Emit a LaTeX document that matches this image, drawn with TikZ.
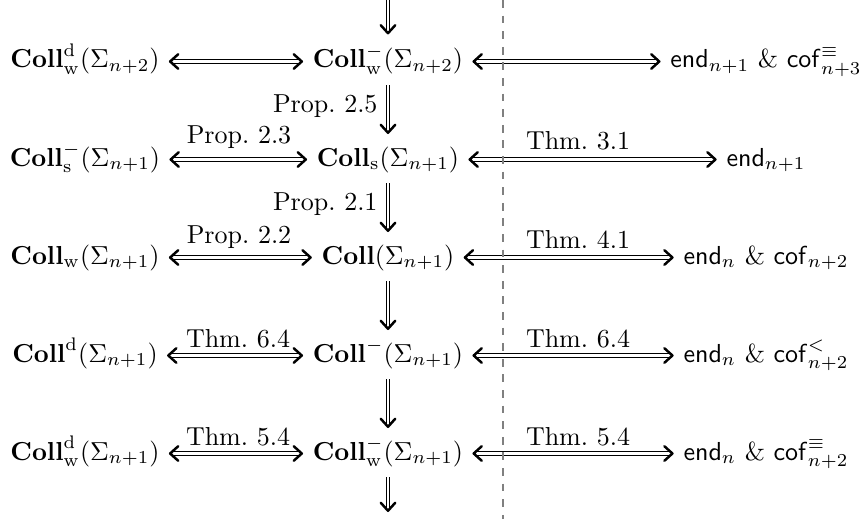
\documentclass[tikz,border=0pt]{standalone}
\usetikzlibrary{arrows.meta}
\begin{document}
\begin{tikzpicture}[x=0.3846pt,y=-0.3846pt,
  Chev/.tip={Straight Barb[length=3.1pt, width=5.6pt, line width=0.95pt, round]},
  obj/.style={inner sep=0pt, text height=7.5pt, text depth=2.5pt, anchor=base},
  dbl/.style={double, double distance=1.1pt, line width=0.4pt},
  harr/.style={dbl, {Chev}-{Chev}, shorten <=3.4pt, shorten >=3.6pt},
  varr/.style={dbl, -{Chev}, shorten <=4pt, shorten >=4.6pt},
  lbl/.style={inner sep=0pt, anchor=base},
  sep/.style={gray, dashed, line width=0.4pt}]
\useasboundingbox (0,0) rectangle (867,519);
% row 1
\node[obj] (a1) at (85,68) {$\mathbf{Coll}^{\mathrm{d}}_{\mathrm{w}}(\Sigma_{n+2})$};
\node[obj] (b1) at (388,68) {$\mathbf{Coll}^{-}_{\mathrm{w}}(\Sigma_{n+2})$};
\node[obj] (c1) at (766,68) {$\mathsf{end}_{n+1}$ \& $\mathsf{cof}^{\equiv}_{n+3}$};
% row 2
\node[obj] (a2) at (85,166) {$\mathbf{Coll}^{-}_{\mathrm{s}}(\Sigma_{n+1})$};
\node[obj] (b2) at (388,166) {$\mathbf{Coll}_{\mathrm{s}}(\Sigma_{n+1})$};
\node[obj] (c2) at (766,166) {$\mathsf{end}_{n+1}$};
% row 3
\node[obj] (a3) at (85,264) {$\mathbf{Coll}_{\mathrm{w}}(\Sigma_{n+1})$};
\node[obj] (b3) at (388,264) {$\mathbf{Coll}(\Sigma_{n+1})$};
\node[obj] (c3) at (766,264) {$\mathsf{end}_{n}$ \& $\mathsf{cof}_{n+2}$};
% row 4
\node[obj] (a4) at (85,362) {$\mathbf{Coll}^{\mathrm{d}}(\Sigma_{n+1})$};
\node[obj] (b4) at (388,362) {$\mathbf{Coll}^{-}(\Sigma_{n+1})$};
\node[obj] (c4) at (766,362) {$\mathsf{end}_{n}$ \& $\mathsf{cof}^{<}_{n+2}$};
% row 5
\node[obj] (a5) at (85,460) {$\mathbf{Coll}^{\mathrm{d}}_{\mathrm{w}}(\Sigma_{n+1})$};
\node[obj] (b5) at (388,460) {$\mathbf{Coll}^{-}_{\mathrm{w}}(\Sigma_{n+1})$};
\node[obj] (c5) at (766,460) {$\mathsf{end}_{n}$ \& $\mathsf{cof}^{\equiv}_{n+2}$};
% free ends of the vertical chain
\coordinate (top) at (388,-2);
\coordinate (bot) at (388,512);
% horizontal arrows
\foreach \r in {1,...,5}{
  \draw[harr] (a\r) -- (b\r);
  \draw[harr] (b\r) -- (c\r);
}
% vertical arrows
\draw[varr, shorten >=5.2pt, shorten <=0pt] (top) -- (b1);
\draw[varr] (b1) -- (b2);
\draw[varr] (b2) -- (b3);
\draw[varr] (b3) -- (b4);
\draw[varr] (b4) -- (b5);
\draw[varr, shorten >=0pt] (b5) -- (bot);
% labels
\node[lbl, anchor=base east] (p25) at (378,112) {Prop.~2.5};
\node[lbl, anchor=base east] (p21) at (378,210) {Prop.~2.1};
\node[lbl] (p23) at (239,144) {Prop.~2.3};
\node[lbl] (p22) at (239,243) {Prop.~2.2};
\node[lbl] (t31) at (578,150) {Thm.~3.1};
\node[lbl] (t41) at (578,248) {Thm.~4.1};
\node[lbl] (t64a) at (238,347) {Thm.~6.4};
\node[lbl] (t64b) at (578,347) {Thm.~6.4};
\node[lbl] (t54a) at (238,445) {Thm.~5.4};
\node[lbl] (t54b) at (578,445) {Thm.~5.4};
% dashed separator
\coordinate (dtop) at (503,0);
\coordinate (dbot) at (503,519);
\draw[sep] (dtop) -- (dbot);
\end{tikzpicture}
\end{document}
